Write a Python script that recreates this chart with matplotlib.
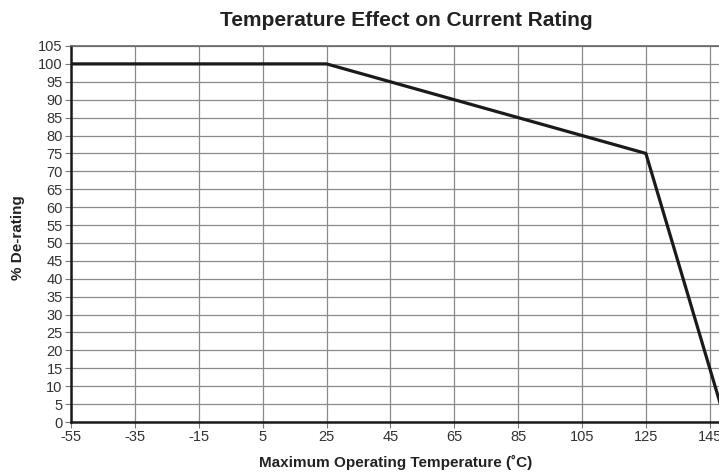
import numpy as np
import matplotlib.pyplot as plt

plt.rcParams['font.family'] = ['Liberation Sans', 'DejaVu Sans']
plt.rcParams['axes.unicode_minus'] = False

# derating curve
temps = [-55, 25, 125, 150]
rating = [100, 100, 75, 0]

x_ticks = np.arange(-55, 146, 20)
y_ticks = np.arange(0, 106, 5)

f = plt.figure(figsize=(7.19, 4.76), dpi=100)
ax = f.add_axes([0.0988, 0.1134, 0.9012, 0.79])

ax.plot(temps, rating, color='#1a1a1a', lw=2.3, zorder=3, clip_on=True)

ax.set_xlim(-55, 147.9)
ax.set_ylim(0, 105)
ax.set_xticks(x_ticks)
ax.set_yticks(y_ticks)
ax.tick_params(labelsize=10.5, colors='#333333', length=4, width=0.8, pad=2)
ax.tick_params(axis='both', color='#777777')
ax.grid(True, color='#8a8a8a', lw=0.9)
ax.set_axisbelow(True)

for s in ['left', 'bottom']:
    ax.spines[s].set_color('#1a1a1a')
    ax.spines[s].set_linewidth(1.8)
ax.spines['top'].set_color('#666666')
ax.spines['top'].set_linewidth(1.2)
ax.spines['right'].set_visible(False)

f.text(0.565, 0.957, "Temperature Effect on Current Rating", ha='center', va='center',
       fontsize=15, fontweight='bold', color='#222222')
f.text(0.55, 0.029, "Maximum Operating Temperature (˚C)", ha='center', va='center',
       fontsize=11, fontweight='bold', color='#222222')
f.text(0.025, 0.5, "% De-rating", ha='center', va='center', rotation=90,
       fontsize=11, fontweight='bold', color='#222222')

f.savefig("out.png", dpi=100)
